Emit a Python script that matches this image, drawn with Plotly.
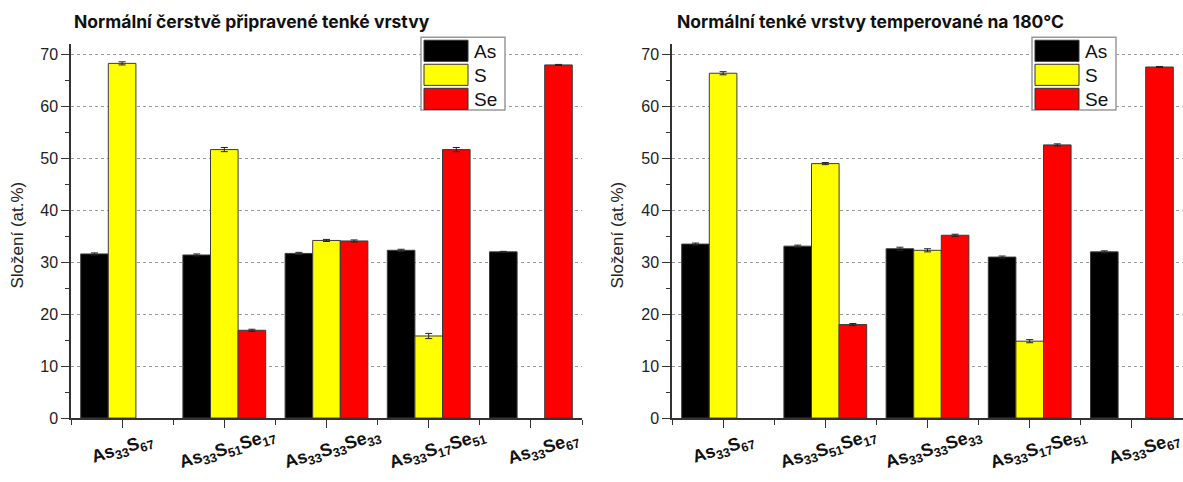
import plotly.graph_objects as go

W, H = 1183, 482

categories = ["As<sub>33</sub>S<sub>67</sub>",
              "As<sub>33</sub>S<sub>51</sub>Se<sub>17</sub>",
              "As<sub>33</sub>S<sub>33</sub>Se<sub>33</sub>",
              "As<sub>33</sub>S<sub>17</sub>Se<sub>51</sub>",
              "As<sub>33</sub>Se<sub>67</sub>"]
series_names = ["As", "S", "Se"]
series_colors = ["#000000", "#FFFF00", "#FF0000"]

titles = ["Normální čerstvě připravené tenké vrstvy",
          "Normální tenké vrstvy temperované na 180°C"]

# panel 1 (fresh)
fresh_As = [31.6, 31.4, 31.7, 32.3, 32.0]
fresh_S = [68.3, 51.7, 34.2, 15.8, None]
fresh_Se = [None, 16.9, 34.1, 51.7, 68.0]
fresh_As_err = [0.2, 0.2, 0.2, 0.2, 0.1]
fresh_S_err = [0.3, 0.4, 0.2, 0.5, None]
fresh_Se_err = [None, 0.2, 0.2, 0.4, 0.1]

# panel 2 (annealed 180 °C)
ann_As = [33.5, 33.1, 32.6, 31.0, 32.0]
ann_S = [66.4, 49.0, 32.3, 14.8, None]
ann_Se = [None, 18.0, 35.2, 52.6, 67.6]
ann_As_err = [0.2, 0.2, 0.3, 0.2, 0.2]
ann_S_err = [0.3, 0.2, 0.3, 0.3, None]
ann_Se_err = [None, 0.2, 0.2, 0.2, 0.1]

y_title = "Složení (at.%)"

panels = [
    ([fresh_As, fresh_S, fresh_Se], [fresh_As_err, fresh_S_err, fresh_Se_err]),
    ([ann_As, ann_S, ann_Se], [ann_As_err, ann_S_err, ann_Se_err]),
]

x_domains = [[71 / W, 582 / W], [672 / W, 1.0]]
y_domain = [(H - 426) / H, (H - 45) / H]
xpos = list(range(len(categories)))

fig = go.Figure()
for p, (vals, errs) in enumerate(panels):
    xa = "x" if p == 0 else "x2"
    ya = "y" if p == 0 else "y2"
    for name, color, v, e in zip(series_names, series_colors, vals, errs):
        fig.add_trace(go.Bar(
            x=xpos, y=v, name=name, xaxis=xa, yaxis=ya,
            marker=dict(color=color, line=dict(color="#3a3a3a", width=1)),
            error_y=dict(type="data", array=e, visible=True,
                         color="#222222", thickness=1, width=3.5),
            showlegend=False,
        ))

axis_font = dict(family="Liberation Sans, Arial", size=16, color="#222")
common_x = dict(range=[-0.5, 4.5], tickvals=xpos, ticktext=["" for _ in xpos],
                ticks="outside", ticklen=8, tickwidth=1.2, tickcolor="#333",
                showline=True, linecolor="#333", linewidth=1.5,
                showgrid=False, zeroline=False, fixedrange=True,
                minor=dict(tick0=0.5, dtick=1, ticks="outside", ticklen=5,
                           tickcolor="#333", tickwidth=1.2, showgrid=False))
common_y = dict(range=[0, 72], dtick=10, tick0=0, ticks="outside", ticklen=8,
                tickwidth=1.2, tickcolor="#333",
                showline=True, linecolor="#333", linewidth=1.5,
                showgrid=True, gridcolor="#9a9a9a", gridwidth=1,
                griddash="3px,3px", zeroline=False, tickfont=axis_font,
                domain=y_domain,
                minor=dict(dtick=5, ticks="outside", ticklen=4,
                           tickcolor="#333", tickwidth=1.2, showgrid=False))

fig.update_layout(
    width=W, height=H,
    margin=dict(l=0, r=0, t=0, b=0),
    paper_bgcolor="white", plot_bgcolor="white",
    barmode="group", bargap=0.19, bargroupgap=0,
    showlegend=False,
    xaxis=dict(domain=x_domains[0], anchor="y", **common_x),
    yaxis=dict(anchor="x", **common_y),
    xaxis2=dict(domain=x_domains[1], anchor="y2", **common_x),
    yaxis2=dict(anchor="x2", **common_y),
)

annotations = []
shapes = []
label_font = dict(family="Liberation Sans, Arial", size=18, color="#111")
title_font = dict(family="Inter, Roboto, sans-serif", size=17.5, color="#111")
ytitle_x = [18 / W, 618 / W]
title_x = [72 / W, 675 / W]
legend_left = [421, 1032]

for p in range(2):
    xr = "x" if p == 0 else "x2"
    # category labels
    for i, c in enumerate(categories):
        annotations.append(dict(
            x=xpos[i] + 0.03 * i, y=(H - 458) / H, xref=xr, yref="paper",
            text="<b>" + c + "</b>", showarrow=False, textangle=-17,
            xanchor="center", yanchor="middle", font=label_font))
    # panel title
    annotations.append(dict(
        x=title_x[p], y=(H - 22) / H, xref="paper", yref="paper",
        text="<b>" + titles[p] + "</b>", showarrow=False,
        xanchor="left", yanchor="middle", font=title_font))
    # y title
    annotations.append(dict(
        x=ytitle_x[p], y=(H - 240) / H, xref="paper", yref="paper",
        text=y_title, showarrow=False, textangle=-90,
        xanchor="center", yanchor="middle",
        font=dict(family="Liberation Sans, Arial", size=17, color="#222")))
    # legend box
    lx = legend_left[p]
    shapes.append(dict(type="rect", xref="paper", yref="paper",
                       x0=lx / W, x1=(lx + 84) / W,
                       y0=(H - 112) / H, y1=(H - 38) / H,
                       line=dict(color="#999", width=1.5), fillcolor="white"))
    for k, (name, color) in enumerate(zip(series_names, series_colors)):
        top = 41 + k * 24.5
        shapes.append(dict(type="rect", xref="paper", yref="paper",
                           x0=(lx + 3) / W, x1=(lx + 47) / W,
                           y0=(H - (top + 21.5)) / H, y1=(H - top) / H,
                           line=dict(color="#333", width=1), fillcolor=color))
        annotations.append(dict(
            x=(lx + 51) / W, y=(H - (top + 11)) / H, xref="paper", yref="paper",
            text=name, showarrow=False, xanchor="left", yanchor="middle",
            font=dict(family="Liberation Sans, Arial", size=19, color="#111")))

fig.update_layout(annotations=annotations, shapes=shapes)
fig.write_html("out.html")
